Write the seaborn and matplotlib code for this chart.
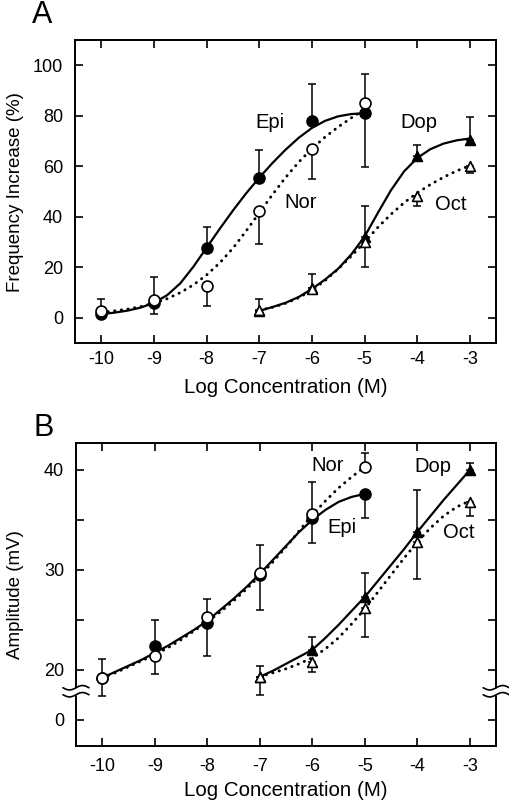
import numpy as np
import matplotlib
matplotlib.use("Agg")
import matplotlib.pyplot as plt
import matplotlib.transforms as mtransforms
import seaborn as sns

# --- Data ---
X_EPI = [-10, -9, -8, -7, -6, -5]
X_DOP = [-7, -6, -5, -4, -3]

# Panel A: frequency increase (%)
A_EPI = [1.4, 6.0, 27.8, 55.5, 78.1, 81.1]
A_EPI_HI = [0, 0, 8.0, 10.8, 14.4, 0]
A_EPI_LO = [0, 0, 0, 0, 0, 21.3]
A_NOR = [2.6, 6.9, 12.6, 42.4, 66.9, 85.0]
A_NOR_HI = [5.0, 9.2, 0, 0, 0, 11.6]
A_NOR_LO = [0, 5.5, 8.0, 13.1, 11.8, 0]
A_DOP = [2.8, 12.0, 32.2, 64.2, 70.4]
A_DOP_HI = [0, 0, 12.1, 4.3, 9.0]
A_DOP_LO = [0, 0, 0, 0, 0]
A_OCT = [3.0, 11.5, 30.0, 48.4, 60.3]
A_OCT_HI = [4.5, 5.7, 0, 0, 0]
A_OCT_LO = [0, 0, 10.0, 4.0, 3.1]

# Panel B: amplitude (mV)
B_EPI = [19.2, 22.4, 24.7, 29.5, 35.2, 37.6]
B_EPI_HI = [0, 2.6, 0, 0, 0, 0]
B_EPI_LO = [0, 0, 3.3, 3.5, 0, 2.4]
B_NOR = [19.2, 21.4, 25.3, 29.7, 35.6, 40.3]
B_NOR_HI = [1.9, 0, 1.8, 2.8, 3.2, 1.4]
B_NOR_LO = [1.8, 1.8, 0, 0, 2.9, 0]
B_DOP = [19.3, 22.0, 27.3, 33.8, 40.0]
B_DOP_HI = [1.1, 1.3, 2.4, 4.2, 0.7]
B_DOP_LO = [0, 0, 0, 0, 0]
B_OCT = [19.3, 20.8, 26.2, 32.8, 36.8]
B_OCT_HI = [0, 0, 0, 0, 0]
B_OCT_LO = [1.8, 1.0, 2.9, 3.7, 1.4]

# fitted curves, sampled every 0.25 log unit off the picture
CX_EPI = np.arange(-10, -4.99, 0.25)
CX_DOP = np.arange(-7, -2.99, 0.25)
A_EPI_FIT = [1.5, 2.1, 2.9, 4.1, 6.0, 9.0, 13.7, 20.3, 27.8, 35.3, 42.5,
             49.3, 55.5, 61.3, 66.6, 71.3, 75.2, 78.0, 79.8, 80.7, 81.0]
A_NOR_FIT = [2.2, 2.8, 3.5, 4.5, 5.8, 7.6, 10.0, 13.1, 17.0, 21.8, 27.6,
             34.4, 41.6, 48.8, 55.6, 61.7, 67.0, 71.6, 75.6, 79.2, 82.5]
A_DOP_FIT = [2.8, 4.3, 6.0, 8.3, 11.5, 15.2, 19.5, 25.2, 32.2, 41.5, 50.5,
             58.0, 63.3, 66.8, 69.0, 70.3, 71.0]
A_OCT_FIT = [3.0, 4.2, 5.8, 8.0, 11.0, 14.8, 19.4, 24.5, 30.0, 35.8, 41.0,
             45.6, 49.5, 52.8, 55.7, 58.2, 60.3]
B_EPI_FIT = [19.2, 19.8, 20.4, 21.0, 21.7, 22.4, 23.2, 24.0, 24.9, 26.0, 27.1,
             28.3, 29.6, 31.0, 32.4, 33.8, 35.0, 36.0, 36.8, 37.3, 37.6]
B_NOR_FIT = [19.2, 19.7, 20.3, 20.9, 21.5, 22.2, 23.0, 23.9, 24.8, 25.8, 26.9,
             28.1, 29.4, 30.8, 32.3, 33.9, 35.5, 36.9, 38.2, 39.3, 40.3]
B_DOP_FIT = [19.3, 19.9, 20.6, 21.3, 22.0, 23.2, 24.5, 25.9, 27.3, 28.9, 30.5,
             32.1, 33.8, 35.4, 37.0, 38.5, 40.0]
B_OCT_FIT = [19.3, 19.7, 20.1, 20.6, 21.2, 22.1, 23.2, 24.6, 26.1, 27.8, 29.5,
             31.2, 32.8, 34.2, 35.4, 36.3, 36.9]

X_TICKS = [-10, -9, -8, -7, -6, -5, -4, -3]
A_YTICKS = [0, 20, 40, 60, 80, 100]
# panel B has a broken axis: "0" sits at 15 on the drawn scale
B_YTICKS = [15, 20, 25, 30, 35, 40]
B_YTICKLABELS = ["0", "20", "", "30", "", "40"]

A_LABELS = [("Epi", -6.79, 77.2), ("Nor", -6.22, 45.5),
            ("Dop", -3.97, 77.2), ("Oct", -3.36, 44.8)]
B_LABELS = [("Nor", -5.71, 40.4), ("Dop", -3.70, 40.3),
            ("Epi", -5.43, 34.2), ("Oct", -3.21, 33.7)]

DOTTED = (0, (0.1, 2.2))


def draw_series(ax, x, y, lo, hi, cx, cy, filled, marker, dotted):
    sns.lineplot(x=cx, y=cy, ax=ax, color="black", sort=False,
                 linewidth=2.1 if dotted else 1.6,
                 linestyle=DOTTED if dotted else "-",
                 dash_capstyle="round", zorder=2)
    ax.errorbar(x, y, yerr=[lo, hi], fmt="none", ecolor="black",
                elinewidth=1.1, capsize=3.2, capthick=1.1, zorder=3)
    size = 62 if marker == "o" else 50
    sns.scatterplot(x=x, y=y, ax=ax, marker=marker, s=size,
                    color="black" if filled else "white",
                    edgecolor="black", linewidth=1.2,
                    zorder=4 if filled else 5, legend=False)


def style_axes(ax, xpad):
    ax.set_xlim(-10.5, -2.5)
    ax.set_xticks(X_TICKS)
    ax.set_xticklabels([str(t) for t in X_TICKS])
    ax.tick_params(direction="in", top=True, right=True, length=5.5,
                   width=1.2, labelsize=13, color="black", labelcolor="black")
    ax.tick_params(axis="x", pad=xpad)
    ax.tick_params(axis="y", pad=8.5)
    for sp in ax.spines.values():
        sp.set_linewidth(1.4)
        sp.set_color("black")
    ax.set_xlabel("Log Concentration (M)", fontsize=14.8, color="black")
    ax.xaxis.set_label_coords(0.5, -0.115)


sns.set_theme(style="ticks")
plt.rcParams["font.family"] = ["Liberation Sans", "DejaVu Sans"]
plt.rcParams["text.color"] = "black"
plt.rcParams["axes.labelcolor"] = "black"

fig = plt.figure(figsize=(5.1, 8.0), dpi=100)
axA = fig.add_axes([0.147, 0.571, 0.826, 0.379])
axB = fig.add_axes([0.149, 0.067, 0.824, 0.379])

# --- Panel A ---
draw_series(axA, X_EPI, A_EPI, A_EPI_LO, A_EPI_HI, CX_EPI, A_EPI_FIT, True, "o", False)
draw_series(axA, X_EPI, A_NOR, A_NOR_LO, A_NOR_HI, CX_EPI, A_NOR_FIT, False, "o", True)
draw_series(axA, X_DOP, A_DOP, A_DOP_LO, A_DOP_HI, CX_DOP, A_DOP_FIT, True, "^", False)
draw_series(axA, X_DOP, A_OCT, A_OCT_LO, A_OCT_HI, CX_DOP, A_OCT_FIT, False, "^", True)
style_axes(axA, 5.5)
axA.set_ylim(-10, 110)
axA.set_yticks(A_YTICKS)
axA.set_ylabel("Frequency Increase (%)", fontsize=13.5, color="black")
axA.yaxis.set_label_coords(-0.14, 0.5)
axA.yaxis.label.set_verticalalignment("center")
for txt, tx, ty in A_LABELS:
    axA.text(tx, ty, txt, fontsize=14.5, ha="center", va="center")

# --- Panel B ---
draw_series(axB, X_EPI, B_EPI, B_EPI_LO, B_EPI_HI, CX_EPI, B_EPI_FIT, True, "o", False)
draw_series(axB, X_EPI, B_NOR, B_NOR_LO, B_NOR_HI, CX_EPI, B_NOR_FIT, False, "o", True)
draw_series(axB, X_DOP, B_DOP, B_DOP_LO, B_DOP_HI, CX_DOP, B_DOP_FIT, True, "^", False)
draw_series(axB, X_DOP, B_OCT, B_OCT_LO, B_OCT_HI, CX_DOP, B_OCT_FIT, False, "^", True)
style_axes(axB, 8)
axB.set_ylim(12.33, 42.67)
axB.set_yticks(B_YTICKS)
axB.set_yticklabels(B_YTICKLABELS)
axB.set_ylabel("Amplitude (mV)", fontsize=13.5, color="black")
axB.yaxis.set_label_coords(-0.145, 0.5)
axB.yaxis.label.set_verticalalignment("center")
for txt, tx, ty in B_LABELS:
    axB.text(tx, ty, txt, fontsize=14.5, ha="center", va="center")

# axis-break marks on both sides of panel B
trans = mtransforms.blended_transform_factory(axB.transAxes, axB.transData)
t = np.linspace(-1, 1, 40)
half = 13 / 420
for x0 in (0.0, 1.0):
    xs = x0 + t * half
    lower = 17.5 + 0.22 * np.sin(np.pi * t)
    upper = 18.2 + 0.22 * np.sin(np.pi * t)
    axB.fill_between(xs, lower, upper, color="white", transform=trans,
                     clip_on=False, zorder=10, linewidth=0)
    axB.plot(xs, lower, color="black", lw=1.2, transform=trans,
             clip_on=False, zorder=11)
    axB.plot(xs, upper, color="black", lw=1.2, transform=trans,
             clip_on=False, zorder=11)

fig.text(0.082, 0.981, "A", fontsize=22, ha="center", va="center")
fig.text(0.086, 0.465, "B", fontsize=22, ha="center", va="center")

fig.savefig("out.png", dpi=100, facecolor="white")
